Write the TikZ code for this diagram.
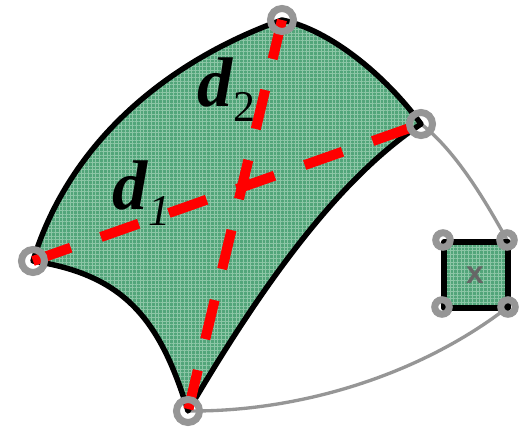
\documentclass[tikz,border=0pt]{standalone}
\usepackage{fontspec}
\setmainfont{Liberation Serif}
\newfontfamily\labelsans{Liberation Sans}
\usepackage{xcolor}
\usepackage{tikz}
\usetikzlibrary{backgrounds,patterns.meta}
\definecolor{patchgreen}{HTML}{52A57A}
\definecolor{patchlight}{HTML}{8CC6A6}
\definecolor{ringgray}{HTML}{969696}

\begin{document}
\begin{tikzpicture}[
    x=0.02cm, y=-0.02cm,
    bigring/.style={circle, draw=ringgray, line width=4pt, minimum size=0.46cm, inner sep=0pt},
    smallring/.style={circle, draw=ringgray, line width=4pt, minimum size=0.29cm, inner sep=0pt},
    patch/.style={draw=black, line width=3.1pt, line join=round,
                  preaction={fill=patchgreen},
                  preaction={pattern={Lines[angle=0,distance=2.1pt,line width=0.5pt]}, pattern color=patchlight},
                  preaction={pattern={Lines[angle=90,distance=2.1pt,line width=0.5pt]}, pattern color=patchlight}},
    diagonal/.style={draw=red, line width=5.7pt, dash pattern=on 22.8pt off 18.2pt},
    edgeline/.style={draw=ringgray, line width=1.9pt},
    biglabel/.style={font=\fontsize{40}{40}\selectfont, inner sep=0pt, anchor=base west},
]
    \useasboundingbox (0,0) rectangle (521,428);

    % corners of the big patch
    \node[bigring] (left) at (33,261) {};
    \node[bigring] (top) at (282,20) {};
    \node[bigring] (right) at (421,124) {};
    \node[bigring] (bottom) at (188,411) {};

    % corners of the small square
    \node[smallring] (sqa) at (443,240) {};
    \node[smallring] (sqb) at (507,240) {};
    \node[smallring] (sqc) at (508,307) {};
    \node[smallring] (sqd) at (442,307) {};

    \begin{scope}[on background layer]
        \draw[edgeline] (right.center) .. controls (455,150) and (485,200) .. (sqb.center);
        \draw[edgeline] (bottom.center) .. controls (300,412) and (420,375) .. (sqc.center);
        \draw[patch] (left.center) .. controls (70,140) and (170,60) .. (top.center)
            .. controls (330,30) and (385,75) .. (right.center)
            .. controls (340,178) and (265,280) .. (bottom.center)
            .. controls (160,320) and (125,275) .. (left.center) -- cycle;
        \draw[patch] (444,242) rectangle (508,308);
        \draw[diagonal] (left.center) -- (right.center);
        \draw[diagonal] (top.center) -- (bottom.center);
    \end{scope}

    \node[biglabel] (done) at (112,210) {\textbf{\textit{d}}\raisebox{-9pt}{\fontsize{25}{25}\selectfont\textit{1}}};
    \node[biglabel] (dtwo) at (197,107) {\textbf{\textit{d}}\raisebox{-8pt}{\fontsize{25}{25}\selectfont 2}};
    \node[font=\labelsans\bfseries\fontsize{18}{18}\selectfont, text=black!60, inner sep=0pt] (xlabel) at (475,275) {x};
\end{tikzpicture}
\end{document}
